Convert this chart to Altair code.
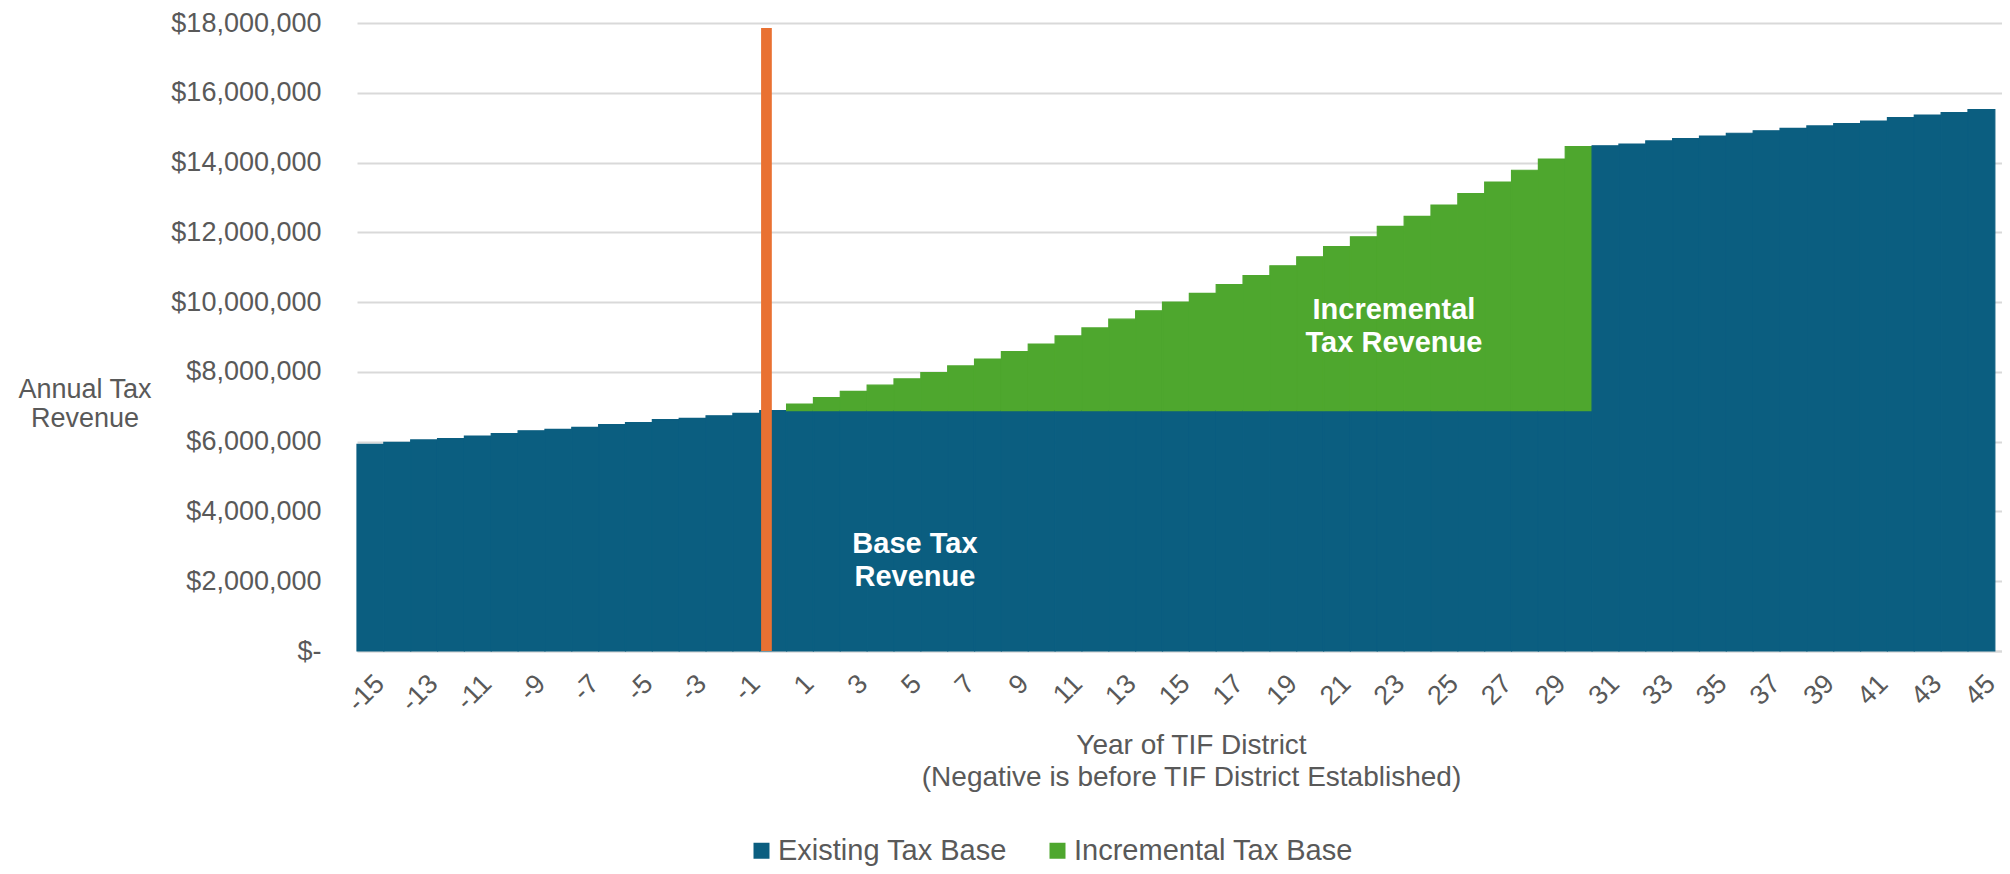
import altair as alt
import pandas as pd

# ---------------- data (values in $ millions) ----------------
years = [-15, -14, -13, -12, -11, -10, -9, -8, -7, -6, -5, -4, -3, -2, -1, 0,
         1, 2, 3, 4, 5, 6, 7, 8, 9, 10, 11, 12, 13, 14, 15, 16, 17, 18, 19, 20,
         21, 22, 23, 24, 25, 26, 27, 28, 29, 30,
         31, 32, 33, 34, 35, 36, 37, 38, 39, 40, 41, 42, 43, 44, 45]

existing_m = [5.92, 5.98, 6.05, 6.09, 6.16, 6.23, 6.31, 6.35, 6.41, 6.49, 6.55, 6.63, 6.67, 6.74, 6.81, 6.89,
              6.89, 6.89, 6.89, 6.89, 6.89, 6.89, 6.89, 6.89, 6.89, 6.89, 6.89, 6.89, 6.89, 6.89, 6.89,
              6.89, 6.89, 6.89, 6.89, 6.89, 6.89, 6.89, 6.89, 6.89, 6.89, 6.89, 6.89, 6.89, 6.89, 6.89,
              14.48, 14.53, 14.62, 14.69, 14.76, 14.84, 14.91, 14.98, 15.05, 15.12, 15.19, 15.29, 15.36, 15.43, 15.52]

incremental_m = [0, 0, 0, 0, 0, 0, 0, 0, 0, 0, 0, 0, 0, 0, 0, 0,
                 0.19, 0.37, 0.55, 0.73, 0.91, 1.09, 1.28, 1.48, 1.69, 1.91, 2.14, 2.37, 2.62, 2.86, 3.11,
                 3.36, 3.61, 3.87, 4.15, 4.41, 4.70, 4.98, 5.28, 5.57, 5.89, 6.22, 6.55, 6.89, 7.21, 7.57,
                 0, 0, 0, 0, 0, 0, 0, 0, 0, 0, 0, 0, 0, 0, 0]

series_names = ["Existing Tax Base", "Incremental Tax Base"]
series_colors = ["#0B5E80", "#4EA72E"]

x_tick_values = [-15, -13, -11, -9, -7, -5, -3, -1, 1, 3, 5, 7, 9, 11, 13, 15, 17, 19,
                 21, 23, 25, 27, 29, 31, 33, 35, 37, 39, 41, 43, 45]
y_tick_values = [0, 2000000, 4000000, 6000000, 8000000, 10000000,
                 12000000, 14000000, 16000000, 18000000]

# TIF district establishment marker (between year -1 and year 1)
marker_start = [-0.45]
marker_end = [-0.05]
marker_top = [17860000]

annotation_text = ["Base Tax\nRevenue", "Incremental\nTax Revenue"]
annotation_year = [5.28, 23.12]
annotation_value = [2810000, 9516000]

# ---------------- tables ----------------
rows = []
for yr, ex, inc in zip(years, existing_m, incremental_m):
    rows.append({"year": yr, "series": series_names[0], "lo": 0.0, "hi": ex * 1e6})
    if inc > 0:
        rows.append({"year": yr, "series": series_names[1], "lo": ex * 1e6, "hi": (ex + inc) * 1e6})
df = pd.DataFrame(rows)

marker_df = pd.DataFrame({"x0": marker_start, "x1": marker_end,
                          "y0": [0] * len(marker_top), "y1": marker_top})
ann_df = pd.DataFrame({"label": annotation_text, "ax": annotation_year, "ay": annotation_value})

FONT = "Liberation Sans"
GRAY = "#595959"

xscale = alt.Scale(domain=[-15.5, 45.767], nice=False, zero=False)
yscale = alt.Scale(domain=[0, 18000000], nice=False)

bars = alt.Chart(df).transform_calculate(
    x0="datum.year - 0.5", x1="datum.year + 0.5"
).mark_bar(strokeWidth=1.2).encode(
    x=alt.X("x0:Q", scale=xscale,
            title=["Year of TIF District", "(Negative is before TIF District Established)"],
            axis=alt.Axis(values=x_tick_values, labelAngle=-45, labelExpr="datum.value + ''",
                          grid=False, ticks=False, domainColor="#D9D9D9", domainWidth=2,
                          labelFontSize=27, labelColor=GRAY, labelPadding=19,
                          labelOverlap=False, labelFlush=False, labelBound=False,
                          titleX=834, titleY=102, titleAlign="center", titleBaseline="alphabetic",
                          titleFontSize=28, titleFontWeight="normal", titleColor=GRAY,
                          titleLineHeight=32)),
    x2="x1:Q",
    y=alt.Y("lo:Q", scale=yscale, title=["Annual Tax", "Revenue"],
            axis=alt.Axis(values=y_tick_values,
                          labelExpr="datum.value === 0 ? '$-' : '$' + format(datum.value, ',')",
                          grid=True, gridColor="#D9D9D9", gridWidth=2, ticks=False, domain=False,
                          labelFontSize=27, labelColor=GRAY, labelPadding=36,
                          titleAngle=0, titleX=-272.5, titleY=374.7, titleAlign="center",
                          titleBaseline="alphabetic", titleFontSize=27, titleFontWeight="normal",
                          titleColor=GRAY, titleLineHeight=29)),
    y2="hi:Q",
    color=alt.Color("series:N", scale=alt.Scale(domain=series_names, range=series_colors),
                    legend=alt.Legend(title=None, orient="none", legendX=390, legendY=813,
                                      direction="horizontal", symbolType="square", symbolSize=256,
                                      symbolStrokeWidth=0, labelFontSize=29, labelColor=GRAY,
                                      labelFont=FONT, labelOffset=2, labelLimit=600,
                                      columnPadding=36, padding=0)),
    stroke=alt.Stroke("series:N", scale=alt.Scale(domain=series_names, range=series_colors),
                      legend=None),
)

marker = alt.Chart(marker_df).mark_rect(color="#E97132").encode(
    x="x0:Q", x2="x1:Q", y="y0:Q", y2="y1:Q"
)

labels = alt.Chart(ann_df).mark_text(
    color="white", font=FONT, fontWeight="bold", fontSize=29, lineHeight=33,
    align="center", baseline="alphabetic", lineBreak="\n"
).encode(x="ax:Q", y="ay:Q", text="label:N")

chart = alt.layer(bars, marker, labels).properties(
    width=1645, height=628,
    padding={"left": 349, "top": 15, "right": 0, "bottom": 215},
    autosize=alt.AutoSizeParams(type="none"),
).configure_view(stroke=None).configure_axis(
    labelFont=FONT, titleFont=FONT
).configure_legend(labelFont=FONT)

chart.save("out.html", embed_options={"renderer": "svg", "actions": False})
